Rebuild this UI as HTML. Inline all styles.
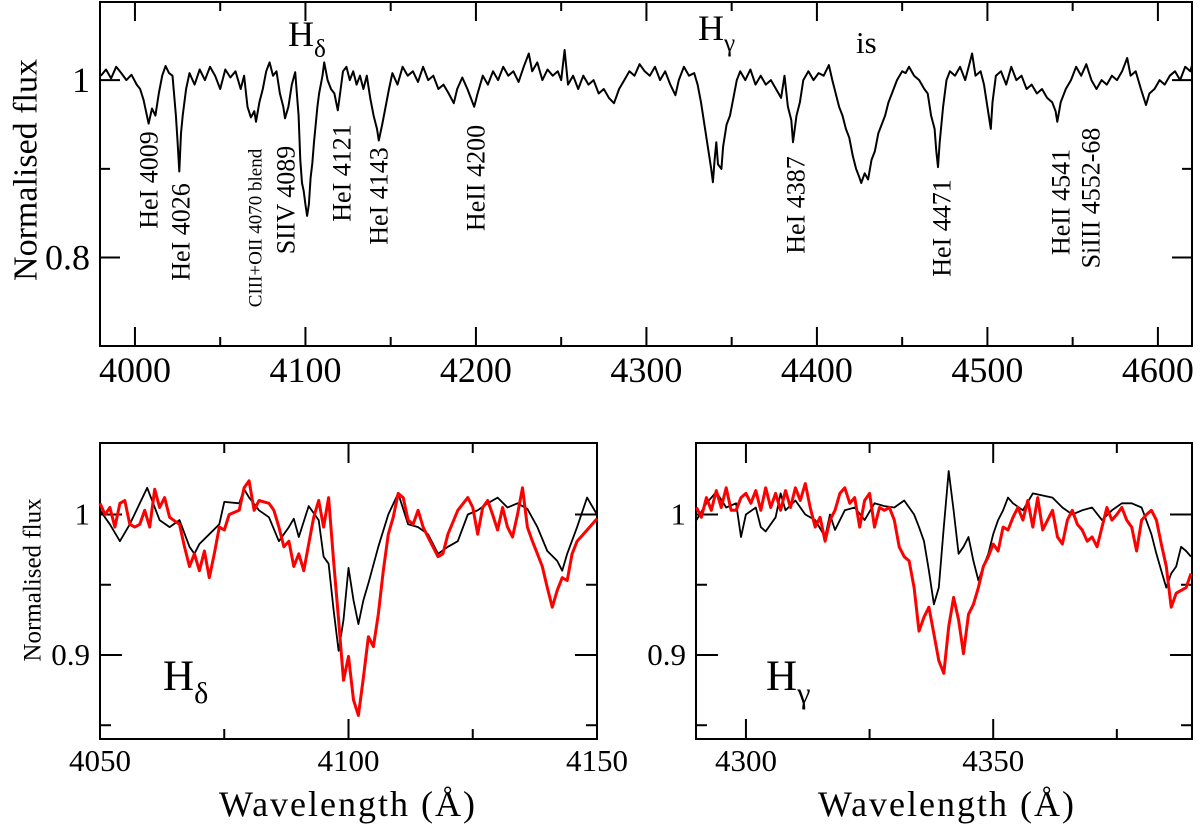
<!DOCTYPE html>
<html><head><meta charset="utf-8"><style>
html,body{margin:0;padding:0;background:#fff;}
svg{display:block;font-family:"Liberation Serif",serif;}
svg text{font-family:"Liberation Serif",serif;}
</style></head><body>
<svg id="fig" width="1200" height="824" viewBox="0 0 1200 824" xmlns="http://www.w3.org/2000/svg">
<g id="top"></g>
<g id="bl"></g>
<g id="br"></g>
</svg>
<script>
// ---- Top panel data ----
const topWave = [3980,3983,3986,3989,3992,3995,3998,4001,4003,4005,4007,4008,4010,4012,4014,4016,4018,4020,4022,4024,4025,4026,4027,4028,4030,4032,4035,4038,4041,4044,4047,4050,4053,4056,4059,4062,4064,4066,4068,4070,4071,4073,4075,4077,4079,4081,4083,4085,4087,4088,4090,4092,4094,4096,4097,4098,4099,4100,4101,4102,4103,4104,4105,4107,4108,4110,4111,4113,4115,4117,4119,4120,4122,4124,4126,4128,4130,4132,4134,4136,4138,4140,4142,4143,4145,4147,4149,4151,4154,4157,4160,4163,4166,4169,4172,4175,4178,4181,4184,4187,4189,4192,4195,4197,4199,4201,4204,4207,4210,4213,4216,4219,4222,4225,4228,4231,4233,4236,4239,4242,4245,4248,4250,4252,4254,4257,4260,4263,4266,4269,4272,4275,4278,4281,4284,4287,4290,4293,4296,4299,4302,4305,4308,4311,4314,4317,4319,4322,4325,4328,4330,4332,4334,4336,4338,4339,4340,4341,4342,4344,4345,4347,4349,4351,4353,4355,4358,4361,4364,4367,4370,4373,4376,4379,4381,4383,4385,4386,4388,4390,4392,4395,4398,4401,4404,4407,4409,4411,4413,4415,4417,4419,4421,4423,4425,4426,4428,4430,4432,4434,4436,4438,4440,4442,4444,4447,4450,4452,4454,4457,4460,4463,4465,4467,4469,4470,4471,4472,4474,4476,4478,4481,4484,4487,4489,4491,4493,4496,4498,4500,4502,4503,4505,4508,4511,4514,4517,4520,4523,4526,4529,4532,4535,4538,4540,4541,4543,4546,4549,4552,4555,4558,4561,4564,4567,4570,4573,4576,4579,4582,4584,4587,4590,4593,4595,4598,4601,4604,4607,4610,4613,4616,4619,4620];
const topFlux = [1.005,1.012,1.002,1.015,1.008,1.0,1.006,0.995,0.99,0.978,0.96,0.951,0.968,0.96,0.985,1.005,1.016,1.008,1.005,0.96,0.93,0.897,0.94,0.96,0.99,1.008,0.995,1.012,1.0,1.015,1.005,0.99,1.012,1.003,1.01,0.99,1.005,0.97,0.958,0.965,0.953,0.975,0.99,1.01,1.02,1.005,1.01,0.985,0.97,0.957,0.97,0.995,1.009,0.96,0.91,0.884,0.875,0.86,0.847,0.86,0.89,0.906,0.93,0.97,0.985,1.005,1.02,1.0,0.99,0.985,0.966,0.98,1.01,1.015,1.0,1.01,0.995,1.005,0.99,1.005,0.98,0.96,0.945,0.932,0.95,0.97,0.99,1.008,0.995,1.015,1.005,1.01,0.998,1.015,1.0,1.005,0.99,0.995,0.985,0.974,0.99,1.003,0.99,0.98,0.97,0.985,1.005,0.995,1.01,1.0,1.015,1.005,1.01,0.998,1.015,1.03,1.01,1.02,1.0,1.012,1.005,1.01,1.0,1.034,0.995,1.005,0.99,1.005,0.995,1.0,0.985,0.99,0.98,0.974,0.99,1.0,1.01,1.005,1.018,1.01,1.005,1.015,1.0,1.01,0.995,0.983,1.0,1.015,1.005,1.008,0.995,0.975,0.95,0.925,0.9,0.885,0.91,0.93,0.905,0.9,0.925,0.95,0.96,0.98,1.0,1.01,1.0,1.012,0.995,1.005,0.995,1.0,0.99,0.98,1.005,0.97,0.955,0.93,0.96,0.975,1.0,1.01,1.0,1.008,1.005,1.017,1.0,0.985,0.97,0.96,0.945,0.935,0.915,0.9,0.89,0.884,0.895,0.888,0.91,0.92,0.94,0.95,0.96,0.975,0.985,1.0,1.01,1.008,1.015,1.005,1.0,0.99,0.985,0.96,0.945,0.92,0.902,0.93,0.97,1.0,1.01,1.005,1.015,1.0,1.015,1.03,1.005,1.01,0.995,0.97,0.945,0.975,1.005,1.01,0.995,1.015,1.0,1.005,0.99,0.995,0.985,0.99,0.98,0.975,0.965,0.953,0.975,0.99,1.0,1.015,1.005,1.018,1.0,0.99,1.0,0.995,1.005,1.0,1.01,1.025,1.005,1.01,0.99,0.972,0.985,0.99,1.0,0.995,1.005,1.01,1.0,1.015,1.01,1.017];

// ---- H-delta panel data ----
const hdWaveBlack = [4050,4052,4054,4056,4058,4059.5,4062,4064,4066,4068,4069,4070,4072,4074,4075,4078,4079,4080,4082,4084,4086,4088,4089,4090,4092,4094,4095,4096,4097,4098,4099,4100,4101,4102,4103,4104,4106,4108,4110,4112,4114,4116,4118,4120,4122,4124,4126,4128,4130,4132,4134,4136,4138,4140,4142,4143,4144,4146,4148,4150];
const hdFluxBlack = [1.003,0.993,0.981,0.993,1.008,1.019,0.996,0.991,0.996,0.977,0.972,0.979,0.986,0.993,1.009,1.008,1.018,1.012,1.003,0.998,0.981,0.991,0.997,0.984,1.006,0.996,0.970,0.965,0.932,0.903,0.925,0.962,0.939,0.922,0.939,0.951,0.977,1.0,1.015,0.993,0.991,0.986,0.972,0.977,0.981,1.0,1.003,1.008,1.012,1.005,1.008,1.004,0.991,0.974,0.967,0.960,0.972,0.991,1.012,1.0];
const hdWaveRed = [4050,4051,4052,4053,4054,4055,4056,4057,4058,4059,4060,4061,4062,4063,4064,4066,4067,4068,4069,4070,4071,4072,4073,4074,4075,4076,4078,4079,4080,4081,4082,4084,4085,4086,4087,4088,4089,4090,4091,4092,4093,4094,4095,4096,4097,4098,4099,4100,4101,4102,4103,4104,4105,4106,4107,4108,4109,4110,4111,4112,4113,4114,4115,4116,4118,4119,4120,4122,4124,4125,4126,4127,4128,4129,4130,4131,4132,4133,4134,4135,4136,4137,4138,4139,4140,4141,4142,4143,4144,4145,4146,4148,4150];
const hdFluxRed = [1.008,1.0,1.005,0.991,1.008,1.010,0.993,0.991,0.993,1.003,0.991,1.018,1.005,1.012,0.998,0.993,0.977,0.963,0.972,0.960,0.974,0.955,0.972,0.991,0.989,1.0,1.003,1.019,1.024,1.003,1.010,1.008,1.003,0.991,0.977,0.981,0.963,0.972,0.960,0.979,0.998,1.010,0.991,1.012,0.967,0.925,0.882,0.899,0.868,0.857,0.884,0.913,0.906,0.929,0.960,0.986,0.998,1.015,1.012,0.996,0.993,1.003,0.991,0.984,0.970,0.972,0.986,1.003,1.012,1.005,0.986,1.005,1.010,1.0,0.989,1.005,0.991,0.984,1.0,1.019,0.991,0.981,0.972,0.963,0.948,0.934,0.946,0.955,0.953,0.972,0.981,0.989,0.997];

// ---- H-gamma panel data ----
const hgWaveBlack = [4290,4292,4294,4296,4298,4299,4300,4302,4303,4304,4306,4307,4308,4310,4312,4314,4316,4317,4318,4320,4322,4324,4326,4328,4330,4332,4334,4335,4336,4337,4338,4339,4340,4341,4342,4343,4344,4345,4346,4347,4348,4349,4350,4351,4352,4353,4354,4356,4358,4360,4362,4364,4366,4368,4370,4372,4374,4376,4378,4380,4382,4383,4384,4385,4386,4387,4388,4389,4390];
const hgFluxBlack = [0.996,1.008,1.016,1.005,1.008,0.984,1.0,1.005,0.991,0.988,0.998,1.015,1.003,1.010,1.0,0.996,0.984,1.0,0.989,1.003,1.005,0.996,1.008,1.006,1.005,1.010,1.0,0.991,0.981,0.960,0.936,0.948,0.991,1.031,1.003,0.972,0.977,0.984,0.967,0.953,0.963,0.972,0.986,0.996,1.003,1.012,1.008,1.003,1.015,1.0135,1.012,1.005,1.0,1.003,1.005,0.996,1.003,1.008,1.008,1.005,0.986,0.972,0.960,0.948,0.958,0.963,0.977,0.974,0.970];
const hgWaveRed = [4290,4291,4292,4293,4294,4295,4296,4297,4298,4299,4300,4301,4302,4303,4304,4305,4306,4307,4308,4309,4310,4311,4312,4313,4314,4315,4316,4317,4318,4319,4320,4321,4322,4323,4324,4325,4326,4327,4328,4329,4330,4331,4332,4333,4334,4335,4336,4337,4338,4339,4340,4341,4342,4343,4344,4345,4346,4347,4348,4349,4350,4351,4352,4353,4354,4355,4356,4357,4358,4359,4360,4361,4362,4363,4364,4365,4366,4367,4368,4369,4370,4371,4372,4373,4374,4375,4376,4377,4378,4379,4380,4381,4382,4383,4384,4385,4386,4387,4388,4389,4390];
const hgFluxRed = [1.005,0.998,1.012,1.003,1.017,1.005,1.019,1.003,1.003,1.012,1.015,1.008,1.017,1.003,1.019,1.005,1.015,1.003,1.017,1.005,1.019,1.010,1.022,1.005,0.991,0.998,0.981,0.996,1.003,1.015,1.019,1.008,1.012,0.991,1.010,1.015,0.991,1.005,1.003,1.005,0.996,0.977,0.970,0.967,0.948,0.917,0.927,0.934,0.915,0.896,0.887,0.920,0.941,0.925,0.901,0.929,0.936,0.948,0.963,0.970,0.979,0.974,0.991,0.989,0.998,1.005,0.996,1.010,0.991,1.012,0.989,0.996,1.003,0.984,0.979,0.996,1.003,0.993,0.989,0.981,0.984,0.977,0.991,1.005,0.996,1.0,1.005,0.996,0.991,0.974,0.996,1.0,1.003,0.996,0.979,0.963,0.934,0.944,0.946,0.948,0.958];

// ---- Tick definitions ----
const topXTicks = [4000,4100,4200,4300,4400,4500,4600];
const topXMinor = [4050,4150,4250,4350,4450,4550];
const topYTicks = [0.8,1];
const topYMinor = [0.9];
const hdXTicks = [4050,4100,4150];
const hdXMinor = [4075,4125];
const hgXTicks = [4300,4350];
const hgXMinor = [4325,4375];
const botYTicks = [0.9,1];
const botYMinor = [0.85,0.95];

const NS = "http://www.w3.org/2000/svg";
function mk(parent, tag, attrs, text){
  const e = document.createElementNS(NS, tag);
  for (const k in attrs) e.setAttribute(k, attrs[k]);
  if (text !== undefined) e.textContent = text;
  parent.appendChild(e);
  return e;
}
function panel(g, box, xd, yd){
  const sx = v => box.x0 + (v - xd[0]) / (xd[1] - xd[0]) * (box.x1 - box.x0);
  const sy = v => box.y1 - (v - yd[0]) / (yd[1] - yd[0]) * (box.y1 - box.y0);
  return {sx, sy};
}
function drawAxes(g, box, s, xt, xm, yt, ym, opts){
  const f = mk(g,'rect',{x:box.x0,y:box.y0,width:box.x1-box.x0,height:box.y1-box.y0,fill:'none',stroke:'#000','stroke-width':2});
  
  
  xt.forEach(v=>{const x=s.sx(v);
    const l=mk(g,'line',{x1:x,x2:x,y1:box.y1,y2:box.y1-opts.xMaj,stroke:'#000','stroke-width':2});
     
    mk(g,'line',{x1:x,x2:x,y1:box.y0,y2:box.y0+opts.xMaj,stroke:'#000','stroke-width':2});
    const t=mk(g,'text',{x:x,y:box.y1+opts.xLabDy,'text-anchor':'middle','font-size':opts.tickFs},String(v));
     
  });
  xm.forEach(v=>{const x=s.sx(v);
    mk(g,'line',{x1:x,x2:x,y1:box.y1,y2:box.y1-opts.xMin,stroke:'#000','stroke-width':2});
    mk(g,'line',{x1:x,x2:x,y1:box.y0,y2:box.y0+opts.xMin,stroke:'#000','stroke-width':2});
  });
  yt.forEach(v=>{const y=s.sy(v);
    const l=mk(g,'line',{x1:box.x0,x2:box.x0+opts.yMaj,y1:y,y2:y,stroke:'#000','stroke-width':2});
     
    mk(g,'line',{x1:box.x1,x2:box.x1-opts.yMaj,y1:y,y2:y,stroke:'#000','stroke-width':2});
    const t=mk(g,'text',{x:box.x0-opts.yLabDx,y:y+opts.tickFs*0.33,'text-anchor':'end','font-size':opts.tickFs},String(v));
     
  });
  ym.forEach(v=>{const y=s.sy(v);
    mk(g,'line',{x1:box.x0,x2:box.x0+opts.yMin,y1:y,y2:y,stroke:'#000','stroke-width':2});
    mk(g,'line',{x1:box.x1,x2:box.x1-opts.yMin,y1:y,y2:y,stroke:'#000','stroke-width':2});
  });
}
function line(g, s, xs, ys, color, w, name){
  const d = xs.map((x,i)=>(i?'L':'M')+s.sx(x).toFixed(1)+' '+s.sy(ys[i]).toFixed(1)).join(' ');
  const p = mk(g,'path',{d:d,fill:'none',stroke:color,'stroke-width':w,'stroke-linejoin':'round'});
  
  
  return p;
}
function rtext(g, x, y, str, fs, name){
  const t = mk(g,'text',{x:0,y:0,transform:`translate(${x},${y}) rotate(-90)`,'text-anchor':'middle','dominant-baseline':'central','font-size':fs}, str);
  
  
  return t;
}
function hlabel(g, x, y, sub, fs, name){
  const t = mk(g,'text',{x:x,y:y,'font-size':fs});
  
  
  mk(t,'tspan',{},'H');
  mk(t,'tspan',{'font-size':fs*0.7,dy:fs*0.3},sub);
  return t;
}

// Top panel
const gT = document.getElementById('top');
const boxT = {x0:100,x1:1192,y0:2,y1:346};
const sT = panel(gT, boxT, [3979.5,4620], [0.7003,1.0881]);
drawAxes(gT, boxT, sT, topXTicks, topXMinor, topYTicks, topYMinor,
  {xMaj:19,xMin:9,yMaj:20,yMin:10,tickFs:36,xLabDy:36,yLabDx:10});
line(gT, sT, topWave, topFlux, '#000', 2, 'full-spectrum-line');
rtext(gT, 26, 170, 'Normalised flux', 34, 'y-axis-title');
hlabel(gT, 288, 46, 'δ', 36, 'h-delta-label');
hlabel(gT, 698, 40, 'γ', 36, 'h-gamma-label');
{const t=mk(gT,'text',{x:856,y:53,'font-size':31},'is');  }
rtext(gT,149,180,'HeI 4009',26,'line-label-hei-4009');
rtext(gT,181,232,'HeI 4026',26,'line-label-hei-4026');
rtext(gT,256,228,'CIII+OII 4070 blend',19,'line-label-ciii-oii-4070');
rtext(gT,286,200,'SIIV 4089',26,'line-label-siiv-4089');
rtext(gT,342,173,'HeI 4121',26,'line-label-hei-4121');
rtext(gT,379,196,'HeI 4143',26,'line-label-hei-4143');
rtext(gT,476,178,'HeII 4200',26,'line-label-heii-4200');
rtext(gT,796,205,'HeI 4387',26,'line-label-hei-4387');
rtext(gT,942,228,'HeI 4471',26,'line-label-hei-4471');
rtext(gT,1061,202,'HeII 4541',26,'line-label-heii-4541');
rtext(gT,1091,198,'SiIII 4552-68',26,'line-label-siiii-4552');

// Bottom-left
const gL = document.getElementById('bl');
const boxL = {x0:100,x1:597,y0:443,y1:739};
const sL = panel(gL, boxL, [4050,4150], [0.8402,1.0509]);
drawAxes(gL, boxL, sL, hdXTicks, hdXMinor, botYTicks, botYMinor,
  {xMaj:20,xMin:10,yMaj:22,yMin:11,tickFs:31,xLabDy:32,yLabDx:10});
line(gL, sL, hdWaveBlack, hdFluxBlack, '#000', 1.8, 'h-delta-observed-line');
line(gL, sL, hdWaveRed, hdFluxRed, '#ff0000', 3, 'h-delta-model-line');
rtext(gL, 33, 580, 'Normalised flux', 25, 'y-axis-title-bottom');
{const t=mk(gL,'text',{x:348,y:816,'text-anchor':'middle','font-size':36,'letter-spacing':2},'Wavelength (Å)');  }
hlabel(gL, 163, 690, 'δ', 43, 'h-delta-panel-label');

// Bottom-right
const gR = document.getElementById('br');
const boxR = {x0:696,x1:1192,y0:443,y1:739};
const sR = panel(gR, boxR, [4289.9,4390.2], [0.8402,1.0509]);
drawAxes(gR, boxR, sR, hgXTicks, hgXMinor, botYTicks, botYMinor,
  {xMaj:20,xMin:10,yMaj:22,yMin:11,tickFs:31,xLabDy:32,yLabDx:10});
line(gR, sR, hgWaveBlack, hgFluxBlack, '#000', 1.8, 'h-gamma-observed-line');
line(gR, sR, hgWaveRed, hgFluxRed, '#ff0000', 3, 'h-gamma-model-line');
{const t=mk(gR,'text',{x:947,y:816,'text-anchor':'middle','font-size':36,'letter-spacing':2},'Wavelength (Å)');  }
hlabel(gR, 766, 690, 'γ', 43, 'h-gamma-panel-label');
</script>
</body></html>
